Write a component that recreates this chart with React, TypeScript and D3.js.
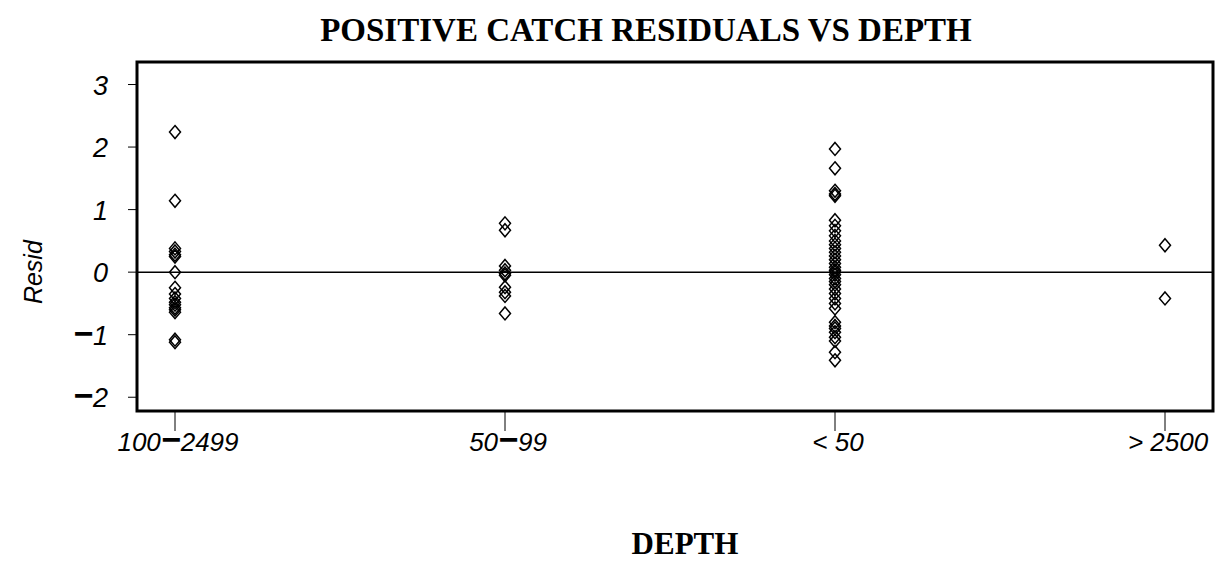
import React, { useEffect, useRef } from "react";
import * as d3 from "d3";

const categories = ["100-2499", "50-99", "<50", ">2500"];
const tickLabels = [
  ["100", "−", "2499"],
  ["50", "−", "99"],
  ["< 50"],
  ["> 2500"],
];
const yTicks = [-2, -1, 0, 1, 2, 3];

const resid100to2499 = [
  2.24, 1.14, 0.38, 0.33, 0.28, 0.25, 0.0, -0.25, -0.35, -0.42, -0.48, -0.52, -0.57,
  -0.6, -0.64, -1.08, -1.12,
];
const resid50to99 = [0.78, 0.67, 0.1, 0.03, -0.02, -0.05, -0.24, -0.32, -0.38, -0.66];
const residUnder50 = [
  1.97, 1.66, 1.3, 1.25, 1.22, 0.83, 0.74, 0.66, 0.58, 0.5, 0.44, 0.38, 0.32, 0.26,
  0.2, 0.14, 0.08, 0.03, 0.0, -0.04, -0.1, -0.15, -0.2, -0.27, -0.34, -0.42, -0.5,
  -0.58, -0.8, -0.86, -0.9, -0.96, -1.04, -1.1, -1.28, -1.41,
];
const resid2500 = [0.43, -0.42];

const series = [resid100to2499, resid50to99, residUnder50, resid2500];

const App = () => {
  const ref = useRef<SVGSVGElement>(null);

  useEffect(() => {
    const svg = d3.select(ref.current);
    svg.selectAll("*").remove();

    const left = 137;
    const right = 1213;
    const top = 62;
    const bottom = 411;

    const x = d3.scalePoint().domain(categories).range([175, 1165]);
    const y = d3.scaleLinear().domain([-2.22, 3.36]).range([bottom, top]);

    // title
    svg
      .append("text")
      .attr("x", 646)
      .attr("y", 41)
      .attr("text-anchor", "middle")
      .attr("font-family", "Liberation Serif")
      .attr("font-weight", "bold")
      .attr("font-size", 33)
      .text("POSITIVE CATCH RESIDUALS VS DEPTH");

    // zero line
    svg
      .append("line")
      .attr("x1", left)
      .attr("x2", right)
      .attr("y1", y(0))
      .attr("y2", y(0))
      .attr("stroke", "black")
      .attr("stroke-width", 1.5);

    // frame
    svg
      .append("rect")
      .attr("x", left)
      .attr("y", top)
      .attr("width", right - left)
      .attr("height", bottom - top)
      .attr("fill", "none")
      .attr("stroke", "black")
      .attr("stroke-width", 3);

    // y ticks
    const yg = svg.append("g");
    yTicks.forEach((t) => {
      yg.append("line")
        .attr("x1", left - 9)
        .attr("x2", left)
        .attr("y1", y(t))
        .attr("y2", y(t))
        .attr("stroke", "black")
        .attr("stroke-width", 1);
      const txt = yg
        .append("text")
        .attr("x", 108)
        .attr("y", y(t) + 10)
        .attr("text-anchor", "end")
        .attr("font-family", "Liberation Sans")
        .attr("font-style", "italic")
        .attr("font-size", 27);
      if (t < 0) {
        txt.append("tspan").attr("font-weight", 900).attr("font-size", 34).text("−");
        txt.append("tspan").text(String(-t));
      } else {
        txt.text(String(t));
      }
    });

    // y axis title
    svg
      .append("text")
      .attr("transform", `translate(42, ${y(0)}) rotate(-90)`)
      .attr("text-anchor", "middle")
      .attr("font-family", "Liberation Sans")
      .attr("font-style", "italic")
      .attr("font-size", 25)
      .text("Resid");

    // x ticks
    const xg = svg.append("g");
    categories.forEach((c, i) => {
      xg.append("line")
        .attr("x1", x(c)!)
        .attr("x2", x(c)!)
        .attr("y1", bottom)
        .attr("y2", bottom + 20)
        .attr("stroke", "black")
        .attr("stroke-width", 1);
      const txt = xg
        .append("text")
        .attr("x", x(c)! + 3)
        .attr("y", 451)
        .attr("text-anchor", "middle")
        .attr("font-family", "Liberation Sans")
        .attr("font-style", "italic")
        .attr("font-size", 26);
      tickLabels[i].forEach((part) => {
        if (part === "−") {
          txt.append("tspan").attr("font-weight", 900).attr("font-size", 34).text(part);
        } else {
          txt.append("tspan").text(part);
        }
      });
    });

    // x axis title
    svg
      .append("text")
      .attr("x", 685)
      .attr("y", 554)
      .attr("text-anchor", "middle")
      .attr("font-family", "Liberation Serif")
      .attr("font-weight", "bold")
      .attr("font-size", 31)
      .text("DEPTH");

    // points
    const diamond = (cx: number, cy: number) =>
      `M${cx},${cy - 6.5}L${cx + 5.5},${cy}L${cx},${cy + 6.5}L${cx - 5.5},${cy}Z`;
    series.forEach((vals, i) => {
      svg
        .append("g")
        .selectAll("path")
        .data(vals)
        .enter()
        .append("path")
        .attr("d", (d) => diamond(x(categories[i])!, y(d)))
        .attr("fill", "none")
        .attr("stroke", "black")
        .attr("stroke-width", 1.5);
    });
  }, []);

  return (
    <svg
      ref={ref}
      width={1225}
      height={563}
      style={{ position: "absolute", left: 0, top: 0, background: "white" }}
    />
  );
};

export default App;
